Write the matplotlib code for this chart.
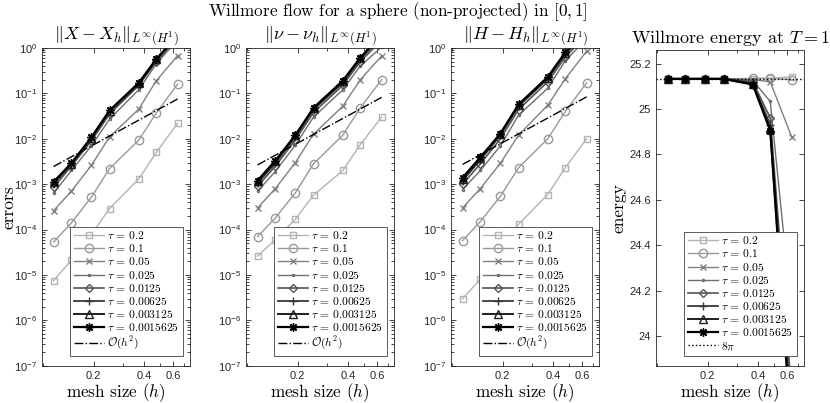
import numpy as np
import matplotlib
matplotlib.use("Agg")
import matplotlib.pyplot as plt
from matplotlib.ticker import FixedLocator, FixedFormatter, LogLocator, NullFormatter

# maillage et pas de temps
h = [0.115, 0.147, 0.194, 0.249, 0.373, 0.475, 0.638]
taus = ["0.2", "0.1", "0.05", "0.025", "0.0125", "0.00625", "0.003125", "0.0015625"]

# erreurs ||X - X_h||
err_X = [
    [7.5e-6, 2.1e-5, 7.8e-5, 2.9e-4, 1.3e-3, 5.0e-3, 2.2e-2],
    [5.3e-5, 1.4e-4, 5.2e-4, 2.2e-3, 9.3e-3, 3.7e-2, 0.16],
    [2.6e-4, 7.0e-4, 2.6e-3, 1.1e-2, 4.5e-2, 0.19, 0.68],
    [6.3e-4, 2.0e-3, 7.0e-3, 2.7e-2, 0.12, 0.45, 1.5],
    [8.5e-4, 2.5e-3, 9.0e-3, 3.5e-2, 0.15, 0.50, 1.7],
    [1.0e-3, 2.7e-3, 1.0e-2, 3.9e-2, 0.16, 0.54, 1.8],
    [1.1e-3, 2.8e-3, 1.05e-2, 4.1e-2, 0.17, 0.56, 1.9],
    [1.12e-3, 2.9e-3, 1.08e-2, 4.2e-2, 0.17, 0.57, 1.9],
]
# erreurs ||nu - nu_h||
err_nu = [
    [2.6e-5, 6.0e-5, 1.7e-4, 5.7e-4, 2.0e-3, 7.4e-3, 3.0e-2],
    [7.0e-5, 1.8e-4, 6.5e-4, 2.8e-3, 1.2e-2, 4.8e-2, 0.20],
    [3.0e-4, 8.0e-4, 3.0e-3, 1.26e-2, 5.2e-2, 0.20, 0.67],
    [7.0e-4, 1.9e-3, 7.3e-3, 3.0e-2, 0.12, 0.40, 1.05],
    [9.0e-4, 2.5e-3, 9.5e-3, 3.8e-2, 0.15, 0.50, 1.5],
    [1.05e-3, 2.9e-3, 1.1e-2, 4.4e-2, 0.17, 0.56, 1.8],
    [1.15e-3, 3.2e-3, 1.2e-2, 4.7e-2, 0.185, 0.60, 2.0],
    [1.2e-3, 3.3e-3, 1.2e-2, 4.8e-2, 0.19, 0.61, 2.0],
]
# erreurs ||H - H_h||
err_H = [
    [3.0e-6, 8.0e-6, 3.3e-5, 1.3e-4, 5.9e-4, 2.3e-3, 1.0e-2],
    [5.7e-5, 1.5e-4, 5.4e-4, 2.3e-3, 1.0e-2, 4.0e-2, 0.17],
    [3.0e-4, 8.0e-4, 2.9e-3, 1.2e-2, 5.5e-2, 0.21, 0.85],
    [7.6e-4, 2.0e-3, 7.0e-3, 3.3e-2, 0.13, 0.52, 1.6],
    [1.0e-3, 2.8e-3, 1.0e-2, 4.4e-2, 0.18, 0.62, 2.0],
    [1.2e-3, 3.4e-3, 1.2e-2, 5.2e-2, 0.21, 0.72, 2.3],
    [1.3e-3, 3.7e-3, 1.3e-2, 5.5e-2, 0.22, 0.78, 2.5],
    [1.4e-3, 3.9e-3, 1.3e-2, 5.7e-2, 0.23, 0.80, 2.5],
]
# constantes de la droite O(h^2)
c_ref = [0.185, 0.201, 0.206]

# energie de Willmore a T = 1
energy = [
    [25.133, 25.133, 25.133, 25.133, 25.134, 25.135, 25.142],
    [25.133, 25.133, 25.133, 25.133, 25.135, 25.135, 25.130],
    [25.133, 25.133, 25.133, 25.133, 25.130, 25.120, 24.878],
    [25.133, 25.133, 25.133, 25.133, 25.125, 25.034, 24.10],
    [25.133, 25.133, 25.133, 25.133, 25.120, 24.960, 23.75],
    [25.133, 25.133, 25.133, 25.133, 25.115, 24.930, 23.65],
    [25.133, 25.133, 25.133, 25.133, 25.110, 24.910, 23.58],
    [25.133, 25.133, 25.133, 25.133, 25.108, 24.905, 23.55],
]
energy_ticks = [24.0, 24.2, 24.4, 24.6, 24.8, 25.0, 25.2]

# styles
grays = [0.70, 0.60, 0.50, 0.43, 0.33, 0.22, 0.12, 0.0]
widths = [1.0, 1.0, 1.0, 1.0, 1.2, 1.3, 1.4, 1.6]
markers = ["s", "o", "x", ".", "D", "+", "^", (8, 2, 0)]
msizes = [5, 6, 5, 3, 4, 6, 6, 6]

plt.rcParams["mathtext.fontset"] = "custom"
plt.rcParams["mathtext.rm"] = "Liberation Sans"
plt.rcParams["mathtext.it"] = "Liberation Sans:italic"
plt.rcParams["mathtext.bf"] = "Liberation Sans:bold"
plt.rcParams["font.family"] = "Liberation Sans"

TXT = "#262626"
SERIF = "cmr10"

fig = plt.figure(figsize=(8.3, 4.03), dpi=100)


def make_axes(left_px, top_px=48.0):
    bottom_px = 365.7
    return fig.add_axes([left_px / 830, (403 - bottom_px) / 403,
                         148 / 830, (bottom_px - top_px) / 403])


def style_axes(ax, logy=True):
    ax.set_xscale("log")
    ax.set_xlim(0.098, 0.757)
    ax.xaxis.set_major_locator(FixedLocator([0.2, 0.4, 0.6]))
    ax.xaxis.set_major_formatter(FixedFormatter(["0.2", "0.4", "0.6"]))
    ax.xaxis.set_minor_locator(LogLocator(base=10, subs=np.arange(1, 10)))
    ax.xaxis.set_minor_formatter(NullFormatter())
    if logy:
        ax.set_yscale("log")
        ax.set_ylim(1e-7, 1)
        ax.yaxis.set_major_locator(FixedLocator([10.0 ** k for k in range(-7, 1)]))
        ax.yaxis.set_major_formatter(FixedFormatter([r"$10^{%d}$" % k for k in range(-7, 1)]))
        ax.yaxis.set_minor_locator(LogLocator(base=10, subs=np.arange(2, 10)))
        ax.yaxis.set_minor_formatter(NullFormatter())
    ax.tick_params(which="both", direction="in", top=True, right=True,
                   labelsize=8, colors=TXT, width=0.6)
    ax.tick_params(which="major", length=3.5)
    ax.tick_params(which="minor", length=2)
    ax.tick_params(axis="x", pad=4)
    for sp in ax.spines.values():
        sp.set_linewidth(0.6)
        sp.set_color(TXT)
    ax.set_xlabel("mesh size $(h)$", fontsize=12.3, family=SERIF,
                  math_fontfamily="cm", color="k")
    ax.xaxis.set_label_coords(0.5, -0.05)


def add_legend(ax):
    leg = ax.legend(loc="lower right", bbox_to_anchor=(0.951, 0.031),
                    borderaxespad=0, fontsize=8.3, fancybox=False,
                    framealpha=1, edgecolor="#404040", handlelength=2.6,
                    handletextpad=0.3, labelspacing=0.1, borderpad=0.3)
    leg.get_frame().set_linewidth(0.6)
    for t in leg.get_texts():
        t.set_math_fontfamily("cm")
    return leg


titles = [r"$\|X - X_h\|_{L^\infty(H^1)}$",
          r"$\|\nu - \nu_h\|_{L^\infty(H^1)}$",
          r"$\|H - H_h\|_{L^\infty(H^1)}$"]
lefts = [42, 246, 451]

for p, (data, ttl, lx) in enumerate(zip([err_X, err_nu, err_H], titles, lefts)):
    ax = make_axes(lx)
    for i in range(len(taus)):
        g = grays[i]
        ax.plot(h, data[i], color=(g, g, g), linewidth=widths[i],
                marker=markers[i], markersize=msizes[i],
                markerfacecolor="none", markeredgewidth=1.0,
                label=r"$\tau \,=\, %s$" % taus[i])
    href = np.array(h)
    ax.plot(href, c_ref[p] * href ** 2, color="k", linestyle="-.",
            linewidth=1.0, label=r"$\mathcal{O}(h^2)$")
    style_axes(ax)
    ax.set_title(ttl, fontsize=13, math_fontfamily="cm", pad=1)
    if p == 0:
        ax.set_ylabel("errors", fontsize=12.5, family=SERIF)
        ax.yaxis.set_label_coords(-0.17, 0.5)
    add_legend(ax)

# energie
ax = make_axes(656, 50)
for i in range(len(taus)):
    g = grays[i]
    ax.plot(h, energy[i], color=(g, g, g), linewidth=widths[i],
            marker=markers[i], markersize=msizes[i],
            markerfacecolor="none", markeredgewidth=1.0,
            label=r"$\tau \,=\, %s$" % taus[i])
ax.axhline(8 * np.pi, color="k", linestyle=":", linewidth=1.0, label=r"$8\pi$")
style_axes(ax, logy=False)
ax.set_ylim(23.87, 25.26)
ax.yaxis.set_major_locator(FixedLocator(energy_ticks))
ax.yaxis.set_major_formatter(FixedFormatter(["24", "24.2", "24.4", "24.6", "24.8", "25", "25.2"]))
ax.set_title("Willmore energy at $T = 1$", fontsize=13, family=SERIF,
             math_fontfamily="cm", pad=5)
ax.set_ylabel("energy", fontsize=12.5, family=SERIF)
ax.yaxis.set_label_coords(-0.2, 0.5)
add_legend(ax)

fig.text(398 / 830, 1 - 12 / 403, "Willmore flow for a sphere (non-projected) in $[0,1]$",
         ha="center", va="center", fontsize=12.3, family=SERIF, math_fontfamily="cm")

fig.savefig("out.png", dpi=100)
plt.close(fig)
